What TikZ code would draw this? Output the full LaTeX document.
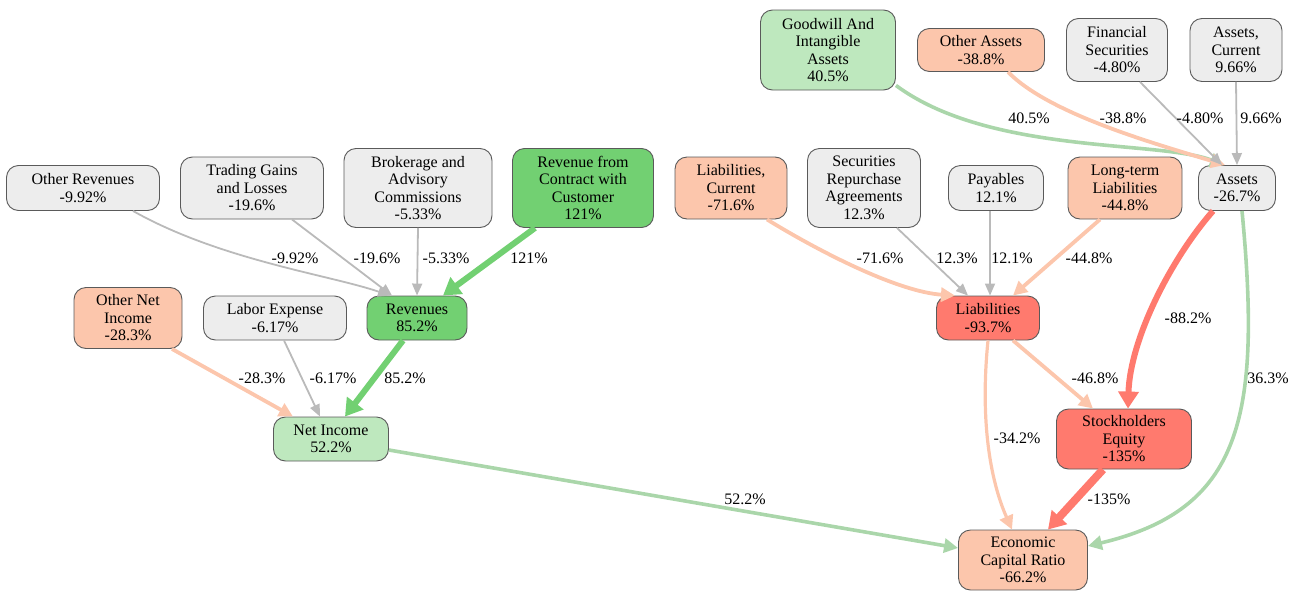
\documentclass[tikz,border=0pt]{standalone}
\usepackage{fontspec}
\setmainfont{Liberation Serif}
\usetikzlibrary{arrows.meta}
\definecolor{boxgray}{RGB}{237,237,237}
\definecolor{boxline}{RGB}{90,90,90}
\definecolor{lgreen}{RGB}{190,232,190}
\definecolor{dgreen}{RGB}{114,208,114}
\definecolor{lorange}{RGB}{252,198,172}
\definecolor{dred}{RGB}{255,122,110}
\definecolor{egray}{RGB}{186,186,186}
\definecolor{egreen}{RGB}{170,214,170}

\begin{document}
\begin{tikzpicture}[x=1pt, y=-1pt,
  font=\fontsize{16}{17.5}\selectfont,
  box/.style={rectangle,draw=boxline,line width=0.9pt,rounded corners=12pt,align=center,inner sep=2pt},
  grey/.style={box,fill=boxgray},
  lgr/.style={box,fill=lgreen},
  dgr/.style={box,fill=dgreen},
  lor/.style={box,fill=lorange},
  red/.style={box,fill=dred},
  lbl/.style={inner sep=0pt},
  gedge/.style={draw=egray,line width=1.8pt,-{Triangle[length=12pt,width=10pt]}},
  oedge/.style={draw=lorange,line width=3.8pt,-{Triangle[length=14pt,width=14pt]}},
  ledge/.style={draw=egreen,line width=3.6pt,-{Triangle[length=14pt,width=14pt]}},
  dedge/.style={draw=dgreen,line width=6pt,-{Triangle[length=17pt,width=20pt]}},
  redge/.style={draw=dred,line width=6pt,-{Triangle[length=17pt,width=20pt]}}]
\useasboundingbox (0,0) rectangle (1291,592);
% top row
\node[lgr,minimum width=135,minimum height=80] (good) at (828,50) {Goodwill And\\Intangible\\Assets\\40.5\%};
\node[lor,minimum width=127,minimum height=43] (oassets) at (981,50) {Other Assets\\-38.8\%};
\node[grey,minimum width=101,minimum height=63] (fsec) at (1117,50) {Financial\\Securities\\-4.80\%};
\node[grey,minimum width=92,minimum height=63] (acur) at (1236,50) {Assets,\\Current\\9.66\%};
% second row
\node[grey,minimum width=153,minimum height=45] (orev) at (83,188) {Other Revenues\\-9.92\%};
\node[grey,minimum width=143,minimum height=62] (trad) at (252,188) {Trading Gains\\and Losses\\-19.6\%};
\node[grey,minimum width=148,minimum height=79] (brok) at (418,188) {Brokerage and\\Advisory\\Commissions\\-5.33\%};
\node[dgr,minimum width=141,minimum height=79] (rfc) at (583,188) {Revenue from\\Contract with\\Customer\\121\%};
\node[lor,minimum width=112,minimum height=62] (liabc) at (731,188) {Liabilities,\\Current\\-71.6\%};
\node[grey,minimum width=113,minimum height=79] (srep) at (864,188) {Securities\\Repurchase\\Agreements\\12.3\%};
\node[grey,minimum width=95,minimum height=45] (pay) at (996,188) {Payables\\12.1\%};
\node[lor,minimum width=114,minimum height=62] (ltl) at (1125,188) {Long-term\\Liabilities\\-44.8\%};
\node[grey,minimum width=77,minimum height=45] (assets) at (1237,188) {Assets\\-26.7\%};
% third row
\node[lor,minimum width=108,minimum height=61] (oni) at (128,318) {Other Net\\Income\\-28.3\%};
\node[grey,minimum width=143,minimum height=44] (labor) at (275,318) {Labor Expense\\-6.17\%};
\node[dgr,minimum width=100,minimum height=44] (rev) at (417,318) {Revenues\\85.2\%};
\node[red,minimum width=103,minimum height=44] (liab) at (988,318) {Liabilities\\-93.7\%};
% fourth row
\node[lgr,minimum width=115,minimum height=44] (ni) at (331,439) {Net Income\\52.2\%};
\node[red,minimum width=135,minimum height=60] (se) at (1124,439) {Stockholders\\Equity\\-135\%};
% bottom
\node[lor,minimum width=129,minimum height=60] (ecr) at (1023,560) {Economic\\Capital Ratio\\-66.2\%};
% edges into revenues
\draw[gedge] ([xshift=50]orev.south) .. controls (220,260) and (330,275) .. ([xshift=-27]rev.north);
\draw[gedge] ([xshift=40]trad.south) -- ([xshift=-25]rev.north);
\draw[gedge] (brok.south) -- (rev.north);
\draw[dedge] ([xshift=-48]rfc.south) -- ([xshift=26]rev.north);
% edges into net income
\draw[oedge] ([xshift=44]oni.south) -- ([xshift=-38]ni.north);
\draw[gedge] ([xshift=9]labor.south) -- ([xshift=-11]ni.north);
\draw[dedge] ([xshift=-14]rev.south) -- ([xshift=14]ni.north);
\draw[ledge] ([yshift=-11]ni.east) -- ([yshift=12]ecr.west);
% edges into assets
\draw[ledge] ([yshift=5]good.south east) .. controls (990,155) and (1160,140) .. ([xshift=-13]assets.north);
\draw[oedge] ([xshift=27]oassets.south) .. controls (1050,115) and (1160,145) .. ([xshift=-12]assets.north);
\draw[gedge] ([xshift=23]fsec.south) -- ([xshift=-15]assets.north);
\draw[gedge] (acur.south) -- (assets.north);
% edges into liabilities
\draw[oedge] ([xshift=36]liabc.south) .. controls (825,255) and (900,292) .. ([xshift=-33]liab.north);
\draw[gedge] ([xshift=33]srep.south) -- ([xshift=-20]liab.north);
\draw[gedge] ([xshift=-6]pay.south) -- ([xshift=2]liab.north);
\draw[oedge] ([xshift=-25]ltl.south) -- ([xshift=25]liab.north);
% edges into equity and ratio
\draw[redge] ([xshift=-24]assets.south) .. controls (1170,260) and (1130,340) .. ([xshift=4]se.north);
\draw[ledge] ([xshift=5]assets.south) .. controls (1262,420) and (1240,510) .. ([yshift=14]ecr.east);
\draw[oedge] ([xshift=25]liab.south) -- ([xshift=-31]se.north);
\draw[oedge,line width=3.2pt] (liab.south) .. controls (980,420) and (990,480) .. ([xshift=-11]ecr.north);
\draw[redge,line width=8pt] ([xshift=-21]se.south) -- ([xshift=25]ecr.north);
% edge labels
\node[lbl] (l-orev) at (295,258) {-9.92\%};
\node[lbl] (l-trad) at (377,258) {-19.6\%};
\node[lbl] (l-brok) at (446,258) {-5.33\%};
\node[lbl] (l-rfc) at (529,258) {121\%};
\node[lbl] (l-oni) at (262,378) {-28.3\%};
\node[lbl] (l-labor) at (333,378) {-6.17\%};
\node[lbl] (l-rev) at (405,378) {85.2\%};
\node[lbl] (l-ni) at (745,499) {52.2\%};
\node[lbl] (l-good) at (1029,118) {40.5\%};
\node[lbl] (l-oassets) at (1123,118) {-38.8\%};
\node[lbl] (l-fsec) at (1200,118) {-4.80\%};
\node[lbl] (l-acur) at (1261,118) {9.66\%};
\node[lbl] (l-liabc) at (880,258) {-71.6\%};
\node[lbl] (l-srep) at (957,258) {12.3\%};
\node[lbl] (l-pay) at (1012,258) {12.1\%};
\node[lbl] (l-ltl) at (1089,258) {-44.8\%};
\node[lbl] (l-aseq) at (1188,318) {-88.2\%};
\node[lbl] (l-aecr) at (1268,378) {36.3\%};
\node[lbl] (l-lseq) at (1095,378) {-46.8\%};
\node[lbl] (l-lecr) at (1017,438) {-34.2\%};
\node[lbl] (l-se) at (1109,499) {-135\%};
\end{tikzpicture}
\end{document}
